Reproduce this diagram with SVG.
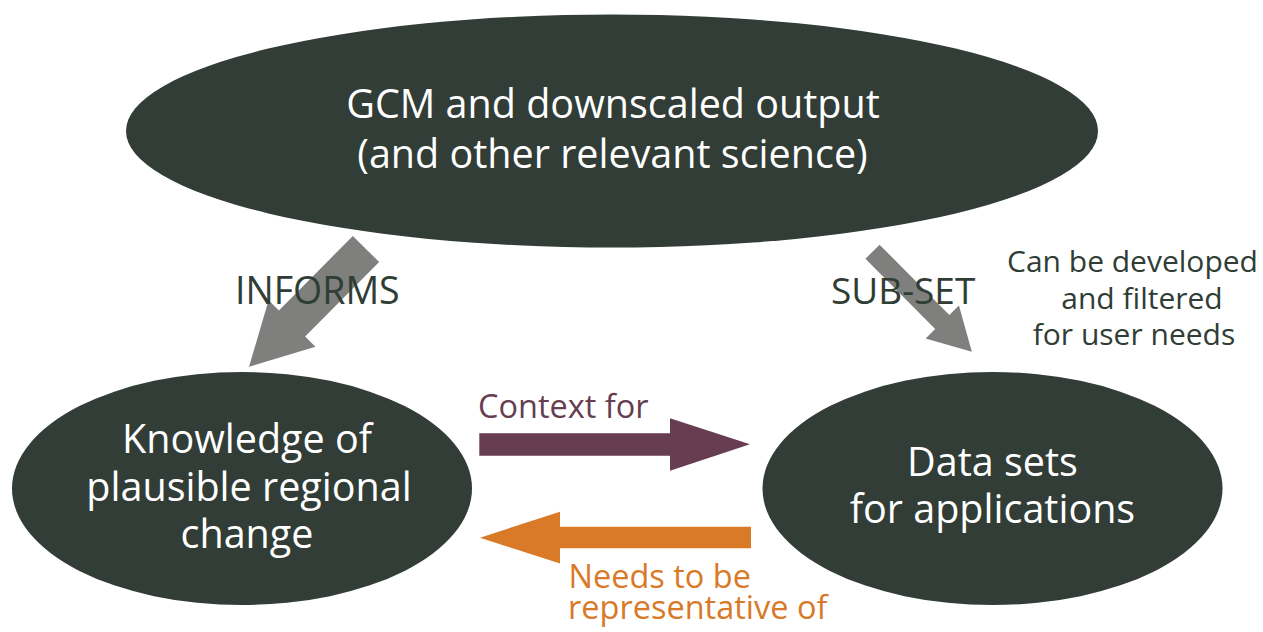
<svg xmlns="http://www.w3.org/2000/svg" width="1263" height="632" viewBox="0 0 1263 632">
  <style>
    .node { fill: #313d36; }
    .ntext { font-family: "Open Sans", "Noto Sans", sans-serif; font-size: 39.5px; fill: #ffffff; text-anchor: middle; }
    .lbl { font-family: "Open Sans", "Noto Sans", sans-serif; fill: #2f3d35; }
    .grey { fill: #7f807e; }
    .purple { fill: #673d51; }
    .orange { fill: #d87a27; }
  </style>
  <rect width="1263" height="632" fill="#ffffff"/>
  <g id="node-gcm">
    <ellipse class="node" cx="612" cy="131" rx="486" ry="116.5"/>
    <text class="ntext" x="613" y="118">GCM and downscaled output</text>
    <text class="ntext" x="612.5" y="168">(and other relevant science)</text>
  </g>
  <g id="node-knowledge">
    <ellipse class="node" cx="242" cy="488.5" rx="230" ry="116.5"/>
    <text class="ntext" x="247" y="453">Knowledge of</text>
    <text class="ntext" x="249" y="501">plausible regional</text>
    <text class="ntext" x="247" y="548">change</text>
  </g>
  <g id="node-datasets">
    <ellipse class="node" cx="992.5" cy="488.5" rx="230" ry="116.5"/>
    <text class="ntext" x="992.5" y="476">Data sets</text>
    <text class="ntext" x="992.5" y="523">for applications</text>
  </g>
  <g id="connectors">
    <polygon class="grey" transform="translate(366,249) rotate(134.8)" points="0,-18.5 105,-18.5 105,-33 166,0 105,33 105,18.5 0,18.5"/>
    <polygon class="grey" transform="translate(872.5,251.7) rotate(45.2)" points="0,-10 99,-10 99,-23.5 141,0 99,23.5 99,10 0,10"/>
    <polygon class="purple" points="479.3,433.3 670,433.3 670,418.3 750,444.3 670,470.7 670,455.7 479.3,455.7"/>
    <polygon class="orange" points="751,526.7 560,526.7 560,511.7 480,537.7 560,563.5 560,548.3 751,548.3"/>
    <text class="lbl" x="235" y="303.5" font-size="37.5">INFORMS</text>
    <text class="lbl" x="831" y="303.5" font-size="37">SUB-SET</text>
    <text class="lbl" x="478" y="417.5" font-size="32.5" fill="#673d51" style="fill:#673d51">Context for</text>
    <text class="lbl" x="568.5" y="587.5" font-size="32.5" style="fill:#d87a27">Needs to be</text>
    <text class="lbl" x="568" y="619" font-size="32.5" style="fill:#d87a27">representative of</text>
    <text class="lbl" x="1132.5" y="272" font-size="30" text-anchor="middle">Can be developed</text>
    <text class="lbl" x="1142" y="308.5" font-size="30" text-anchor="middle">and filtered</text>
    <text class="lbl" x="1134" y="345" font-size="30" text-anchor="middle">for user needs</text>
  </g>
</svg>
